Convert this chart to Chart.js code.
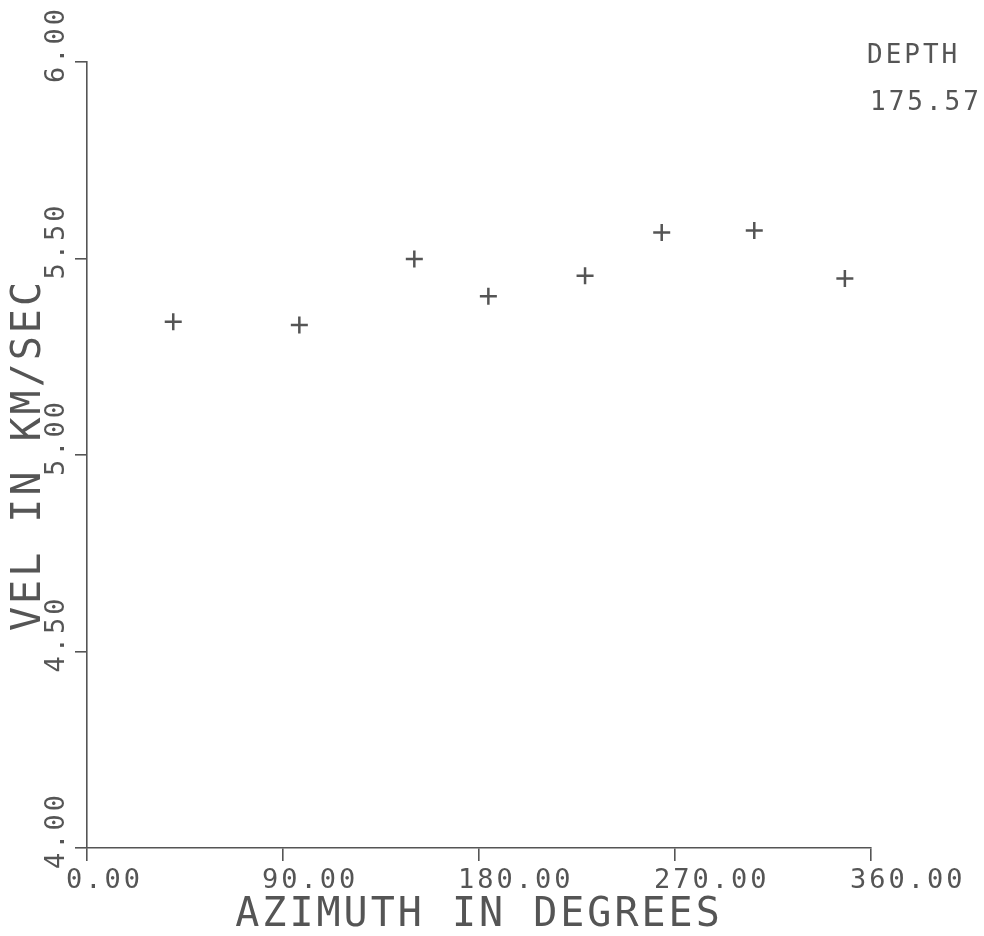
<!DOCTYPE html>
<html>
<head>
<meta charset="utf-8">
<script src="https://cdn.jsdelivr.net/npm/chart.js@4"></script>
<style>
  html, body { margin: 0; padding: 0; background: #fff; }
  canvas { display: block; }
</style>
</head>
<body>
<canvas id="velChart" width="984" height="936"></canvas>
<script>
// values
const azimuth = [39.6, 97.5, 150.3, 184.3, 228.7, 263.9, 306.4, 348.0];
const velocity = [5.339, 5.331, 5.499, 5.404, 5.456, 5.566, 5.571, 5.449];
const xTickValues = [0, 90, 180, 270, 360];
const yTickValues = [4.0, 4.5, 5.0, 5.5, 6.0];
const depthLabel = ['DEPTH', '175.57'];

const ink = '#555555';
const mono = "'DejaVu Sans Mono', 'Liberation Mono', monospace";

// plotter style lettering: wide spacing
const spacing = {
  id: 'spacing',
  beforeDraw(chart) { chart.ctx.letterSpacing = '3px'; }
};

// y tick labels run bottom-to-top, plus the depth note
const extraText = {
  id: 'extraText',
  afterDraw(chart) {
    const ctx = chart.ctx;
    const y = chart.scales.y;
    ctx.save();
    ctx.fillStyle = ink;
    ctx.font = '27px ' + mono;
    ctx.letterSpacing = '3px';
    yTickValues.forEach(v => {
      const py = y.getPixelForValue(v);
      ctx.save();
      ctx.translate(57, py + 21);
      ctx.rotate(-Math.PI / 2);
      ctx.textAlign = 'left';
      ctx.textBaseline = 'middle';
      ctx.fillText(v.toFixed(2), 0, 0);
      ctx.restore();
    });
    ctx.textAlign = 'left';
    ctx.textBaseline = 'alphabetic';
    ctx.font = '26px ' + mono;
    ctx.fillText(depthLabel[0], 867, 63);
    ctx.fillText(depthLabel[1], 870, 110);
    ctx.restore();
  }
};

const ctx = document.getElementById('velChart').getContext('2d');
new Chart(ctx, {
  type: 'scatter',
  data: {
    datasets: [{
      data: azimuth.map((a, i) => ({ x: a, y: velocity[i] })),
      pointStyle: 'cross',
      pointRadius: 8.5,
      pointBorderWidth: 2.5,
      borderColor: ink,
      backgroundColor: ink
    }]
  },
  options: {
    responsive: false,
    animation: false,
    layout: { padding: { left: 0, top: 62, right: 113, bottom: 0 } },
    plugins: { legend: { display: false }, tooltip: { enabled: false } },
    scales: {
      x: {
        type: 'linear',
        min: 0,
        max: 360,
        afterBuildTicks: s => { s.ticks = xTickValues.map(v => ({ value: v })); },
        afterFit: s => { s.height = 88; },
        border: { color: ink, width: 1.6 },
        grid: { drawOnChartArea: false, drawTicks: true, tickLength: 13, color: ink, lineWidth: 1.6 },
        ticks: {
          color: ink,
          font: { family: mono, size: 27 },
          align: 'start',
          labelOffset: -21,
          padding: 4,
          maxRotation: 0,
          callback: v => Number(v).toFixed(2)
        },
        title: {
          display: true,
          text: 'AZIMUTH IN DEGREES',
          color: ink,
          font: { family: mono, size: 40, lineHeight: 1.0 },
          padding: { top: 0, bottom: 0 }
        }
      },
      y: {
        type: 'linear',
        min: 4,
        max: 6,
        afterBuildTicks: s => { s.ticks = yTickValues.map(v => ({ value: v })); },
        afterFit: s => { s.width = 87; },
        border: { color: ink, width: 1.6 },
        grid: { drawOnChartArea: false, drawTicks: true, tickLength: 12, color: ink, lineWidth: 1.6 },
        ticks: { display: false },
        title: {
          display: true,
          text: 'VEL IN KM/SEC',
          color: ink,
          font: { family: mono, size: 40, lineHeight: 1.0 },
          padding: { top: 10, bottom: 0 }
        }
      }
    }
  },
  plugins: [spacing, extraText]
});
</script>
</body>
</html>
